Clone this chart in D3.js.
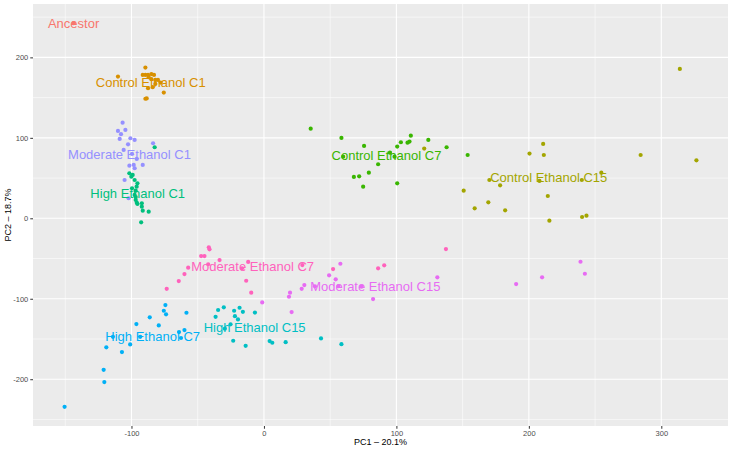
<!DOCTYPE html>
<html>
<head>
<meta charset="utf-8">
<script src="https://cdn.jsdelivr.net/npm/d3@7"></script>
<style>
  body { margin: 0; background: #fff; }
  svg text { font-family: "Liberation Sans", Arial, Helvetica, sans-serif; }
</style>
</head>
<body>
<div id="chart"></div>
<script>
// group names, in the order of the colour scale
var groupNames = ["Ancestor", "Control Ethanol C1", "Control Ethanol C15", "Control Ethanol C7",
  "High Ethanol C1", "High Ethanol C15", "High Ethanol C7",
  "Moderate Ethanol C1", "Moderate Ethanol C15", "Moderate Ethanol C7"];
var groupColors = ["#F8766D", "#D89000", "#A3A500", "#39B600", "#00BF7D",
  "#00BFC4", "#00B0F6", "#9590FF", "#E76BF3", "#FF62BC"];

// samples as [PC1, PC2]
var ancestor = [[-143.7, 242.5]];
var controlC1 = [[-89.5,187.3],[-110.2,176.1],[-91.5,178.2],[-89.5,178.2],[-87.5,178.2],[-85,179.2],
  [-83,178.2],[-87,175.4],[-85,172.9],[-82,172],[-80,172],[-78,168.7],[-82,167],[-84,163],
  [-87.5,161.7],[-75.6,156.2],[-89.5,148.6],[-88.5,149]];
var controlC15 = [[314,185.7],[210.8,92.4],[200.5,80.5],[211.3,78.7],[284.4,78.7],[326.5,72.1],
  [254.7,56.7],[170.2,47.6],[208,46.4],[240,47.6],[178.3,41],[150.8,34.3],[214.3,27.7],
  [169.4,19.9],[159.1,12.4],[182.1,9.9],[243.5,3.2],[240.2,1.6],[215.5,-3],[121,86.6]];
var controlC7 = [[35.3,111.4],[58.5,99.9],[75.6,89.9],[110.9,102.7],[103.4,94.5],[108.4,94],
  [109.9,95.3],[124.1,97.4],[100.6,89.1],[137.9,88.3],[153.8,78.7],[59.8,76.6],[95.1,81.6],
  [98.6,76.6],[86.2,67.2],[79.2,56.7],[67.9,51.4],[71.9,52.2],[74.9,39.3],[100.6,43.5]];
var highC1 = [[-101.6,56],[-99.1,53.9],[-100.1,51.7],[-97.6,47.6],[-95.5,43.5],[-96.1,39.3],
  [-99.6,37.3],[-96.8,34.3],[-97.6,29],[-96.8,26.5],[-96.8,22.8],[-96,19.4],[-92.2,18.7],
  [-95.5,17.8],[-92.2,14.4],[-91.5,9.5],[-87,8.2],[-92.7,-5],[-82.5,88.3]];
var highC15 = [[-34.6,-114],[-30.3,-110.7],[-36.5,-122.4],[-22.5,-114.9],[-18.4,-111.2],
  [-15.9,-116.2],[-21.9,-121.6],[-19.6,-125.7],[-6.8,-117.2],[-29.5,-137.2],[-25.2,-131.8],
  [-23.2,-152.2],[-13.8,-158.5],[4.3,-152.6],[6.3,-154.7],[16.4,-153.9],[43.1,-149.3],[58.5,-156.5]];
var highC7 = [[-74.4,-107.8],[-75.6,-114.9],[-73.9,-119.4],[-58.5,-117.4],[-86.2,-123.1],
  [-96.3,-131.5],[-79.4,-133.1],[-60,-138.9],[-64.1,-141.4],[-114,-147.3],[-93.4,-147.3],
  [-62.6,-148.8],[-119,-160.4],[-101,-156.7],[-107.2,-166.3],[-121,-188.3],[-120.5,-203.6],
  [-150.5,-234.3]];
var moderateC1 = [[-106.7,118.9],[-110.2,108.6],[-104.6,109.8],[-107.9,104.5],[-108.9,98.6],
  [-100.8,99.5],[-97.6,97.4],[-83.7,93.3],[-102.6,92],[-105.9,85],[-99.6,80],[-96,73.8],
  [-101.6,65.4],[-98.3,66.3],[-97.6,62.2],[-91.5,66.3],[-105.2,47.6],[-102.2,24.9]];
var moderateC15 = [[-1.3,-104.5],[18.9,-97.5],[19.7,-92.5],[20.9,-116.5],[28.5,-87.6],[30.5,-83],
  [38.5,-84.5],[49.2,-70.9],[54.2,-75.9],[57.7,-56.5],[56.2,-84.2],[73.6,-85],[82.4,-100.4],
  [130.9,-73.4],[190.4,-81.7],[210,-73.4],[239,-54],[242.3,-68.9]];
var moderateC7 = [[-41.6,-36.1],[-41.1,-38.6],[-47.4,-46.9],[-44.9,-46.9],[-33.5,-51.9],
  [-57.2,-61.4],[-60,-69.3],[-64.3,-78],[-73.4,-87.6],[-42.1,-57.1],[-11.9,-54.2],[-16.5,-62.2],
  [-13.4,-77.6],[-9.6,-92.5],[29,-58.1],[52.2,-63.1],[86.2,-62.2],[90.8,-58.5],[137.4,-38.2]];

var groupPoints = [ancestor, controlC1, controlC15, controlC7, highC1, highC15, highC7,
  moderateC1, moderateC15, moderateC7];

// group label positions (PC1, PC2)
var labelPC1 = [-143.7, -85.5, 215, 92.5, -95.3, -7, -84, -101.5, 84.1, -8.5];
var labelPC2 = [242.5, 169.6, 50.5, 78.7, 31.1, -136, -146.4, 79.6, -84.2, -59.3];

var xTicks = [-100, 0, 100, 200, 300];
var yTicks = [-200, -100, 0, 100, 200];
var xMinor = [-150, -50, 50, 150, 250];
var yMinor = [-250, -150, -50, 50, 150, 250];

var W = 733, H = 451;
var margin = {top: 4, right: 5, bottom: 25, left: 33};
var pw = W - margin.left - margin.right, ph = H - margin.top - margin.bottom;

var points = [];
groupPoints.forEach(function(arr, g){
	arr.forEach(function(p){ points.push({x: p[0], y: p[1], g: g}); });
});

// ggplot style 5% expansion
function expand(ext){ var d = (ext[1] - ext[0]) * 0.05; return [ext[0] - d, ext[1] + d]; }
var x = d3.scaleLinear().domain(expand(d3.extent(points, function(d){ return d.x; }))).range([0, pw]);
var y = d3.scaleLinear().domain(expand(d3.extent(points, function(d){ return d.y; }))).range([ph, 0]);

var svg = d3.select("#chart").append("svg").attr("width", W).attr("height", H);
var panel = svg.append("g").attr("transform", "translate(" + margin.left + "," + margin.top + ")");

panel.append("rect").attr("width", pw).attr("height", ph).attr("fill", "#EBEBEB");

// grid
panel.selectAll(".xminor").data(xMinor).enter().append("line")
	.attr("x1", x).attr("x2", x).attr("y1", 0).attr("y2", ph)
	.attr("stroke", "#fff").attr("stroke-width", 0.55);
panel.selectAll(".yminor").data(yMinor).enter().append("line")
	.attr("y1", y).attr("y2", y).attr("x1", 0).attr("x2", pw)
	.attr("stroke", "#fff").attr("stroke-width", 0.55);
panel.selectAll(".xmajor").data(xTicks).enter().append("line")
	.attr("x1", x).attr("x2", x).attr("y1", 0).attr("y2", ph)
	.attr("stroke", "#fff").attr("stroke-width", 1.1);
panel.selectAll(".ymajor").data(yTicks).enter().append("line")
	.attr("y1", y).attr("y2", y).attr("x1", 0).attr("x2", pw)
	.attr("stroke", "#fff").attr("stroke-width", 1.1);

// axes
var xAxis = panel.append("g").attr("transform", "translate(0," + ph + ")")
	.call(d3.axisBottom(x).tickValues(xTicks).tickSize(2.75).tickPadding(2).tickFormat(String));
var yAxis = panel.append("g")
	.call(d3.axisLeft(y).tickValues(yTicks).tickSize(2.75).tickPadding(2).tickFormat(String));
[xAxis, yAxis].forEach(function(a){
	a.select(".domain").remove();
	a.selectAll(".tick line").attr("stroke", "#333333").attr("stroke-width", 1);
	a.selectAll(".tick text").attr("fill", "#4D4D4D").style("font-size", "7.5px")
		.style("font-family", "'Liberation Sans', Arial, sans-serif");
});

// points
panel.append("g").selectAll("circle").data(points).enter().append("circle")
	.attr("cx", function(d){ return x(d.x); })
	.attr("cy", function(d){ return y(d.y); })
	.attr("r", 2.1)
	.attr("fill", function(d){ return groupColors[d.g]; });

// group labels
panel.append("g").selectAll("text").data(groupNames).enter().append("text")
	.attr("x", function(d, i){ return x(labelPC1[i]); })
	.attr("y", function(d, i){ return y(labelPC2[i]); })
	.attr("dy", "0.36em")
	.attr("text-anchor", "middle")
	.attr("fill", function(d, i){ return groupColors[i]; })
	.style("font-size", "13px")
	.text(function(d){ return d; });

// axis titles
svg.append("text")
	.attr("x", margin.left + pw / 2).attr("y", H - 6)
	.attr("text-anchor", "middle").style("font-size", "9px").attr("fill", "#000")
	.text("PC1 \u2013 20.1%");
svg.append("text")
	.attr("transform", "translate(" + 11 + "," + (margin.top + ph / 2) + ") rotate(-90)")
	.attr("text-anchor", "middle").style("font-size", "9px").attr("fill", "#000")
	.text("PC2 \u2013 18.7%");
</script>
</body>
</html>
